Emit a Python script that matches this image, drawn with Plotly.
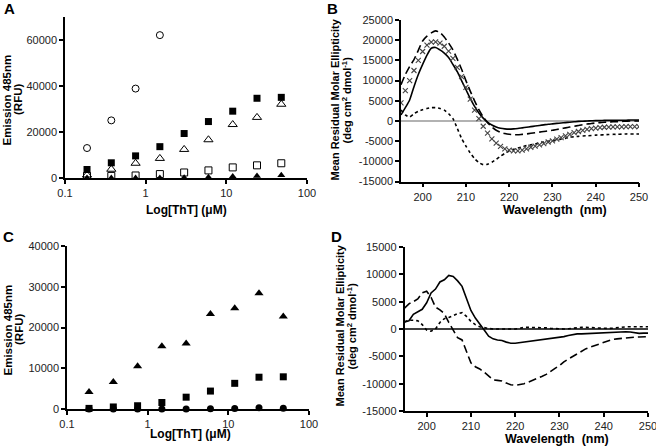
import plotly.graph_objects as go

# ---------------- data ----------------
tht_conc = [0.1875, 0.375, 0.75, 1.5, 3, 6, 12, 24, 48]
log_ticks = [0.1, 1, 10, 100]
log_tick_text = ["0.1", "1", "10", "100"]

# Panel A
a_open_circle = [13000, 25000, 38800, 62000]
a_filled_square = [3700, 6600, 9600, 13600, 19300, 24500, 29000, 34600, 35000]
a_open_triangle = [1300, 3800, 6400, 8500, 12400, 16600, 23200, 26300, 32000]
a_open_square = [900, 900, 1100, 1700, 2400, 3300, 4600, 5500, 6400]
a_filled_triangle = [0, 0, 0, 0, 100, 300, 600, 900, 1200]

# Panel C
c_filled_triangle = [4200, 6600, 10500, 15400, 16100, 23300, 24700, 28400, 22700]
c_filled_square = [150, 500, 800, 1600, 2900, 4400, 6300, 7800, 7900]
c_filled_circle = [0, 0, 0, 0, 0, 50, 150, 300, 200]

# Panel B (CD spectra), wavelength 195..250 nm
wl = list(range(195, 251))
b_solid = [1500, 3300, 5200, 8500, 11500, 14000, 16300, 18000, 18200, 17600,
           16800, 15700, 14000, 12200, 10000, 7800, 5600, 3600, 2000, 700,
           -300, -1000, -1500, -1800, -1950, -2000, -1950, -1850, -1700, -1550,
           -1400, -1250, -1100, -950, -800, -700, -600, -500, -400, -300,
           -200, -100, -50, 0, 50, 100, 100, 150, 150, 150,
           200, 200, 200, 250, 250, 250]
b_long_dash = [9000, 11500, 13500, 15200, 17500, 19800, 21000, 21800, 22300, 21900,
               20800, 19300, 17600, 15300, 12800, 10000, 7400, 5000, 2800, 1000,
               -400, -1500, -2300, -2800, -3100, -3300, -3400, -3400, -3300, -3200,
               -3050, -2900, -2750, -2600, -2450, -2300, -2100, -1900, -1700, -1500,
               -1300, -1100, -900, -750, -600, -500, -400, -300, -250, -200,
               -150, -100, -50, 0, 0, 0]
b_cross = [4500, 7500, 10000, 12500, 15000, 17200, 18800, 19500, 19600, 19300,
           18500, 17300, 15500, 13300, 11000, 8300, 5400, 2700, 600, -1300,
           -3000, -4400, -5500, -6300, -6900, -7200, -7400, -7400, -7200, -6900,
           -6500, -6200, -5900, -5600, -5200, -4900, -4500, -4100, -3700, -3300,
           -2900, -2600, -2300, -2100, -1900, -1750, -1650, -1550, -1500, -1450,
           -1450, -1450, -1400, -1400, -1400, -1400]
b_short_dash = [2700, 1500, 1000, 1800, 2400, 2800, 3100, 3300, 3300, 3100,
                2700, 1800, 600, -1800, -4300, -6200, -7900, -9300, -10300, -10800,
                -10700, -10200, -9500, -8700, -8000, -7400, -7000, -6700, -6400, -6100,
                -5900, -5700, -5400, -5200, -5000, -4900, -4700, -4500, -4300, -4000,
                -3900, -3800, -3700, -3650, -3600, -3500, -3450, -3400, -3350, -3300,
                -3300, -3250, -3200, -3200, -3200, -3200]

# Panel D
d_solid = [1300, 1500, 2700, 3200, 3600, 4800, 6600, 7300, 8600, 9000,
           9800, 9600, 8800, 7800, 5600, 3400, 2000, 800, -200, -1300,
           -1800, -2000, -2100, -2400, -2600, -2600, -2500, -2400, -2300, -2200,
           -2100, -2000, -1900, -1700, -1600, -1500, -1400, -1200, -1000, -900,
           -900, -850, -800, -800, -800, -750, -700, -650, -600, -550,
           -500, -550, -650, -800, -750, -750]
d_long_dash = [3800, 4600, 5000, 5500, 6600, 6900, 5800, 4000, 3500, 2800,
               1200, -200, -1600, -2000, -4200, -6200, -6900, -7300, -7900, -8600,
               -9300, -9400, -9500, -9900, -10200, -10300, -10200, -10000, -9700, -9400,
               -9100, -8700, -8300, -7700, -7200, -6700, -6000, -5500, -5000, -4500,
               -4100, -3600, -3300, -3000, -2700, -2400, -2100, -1900, -1800, -1700,
               -1600, -1550, -1500, -1450, -1400, -1400]
d_short_dash = [1300, 1600, 1600, 1500, 800, -200, -400, 0, 1200, 1900,
                2100, 2500, 2800, 3000, 2300, 1400, 800, 400, 200, 100,
                0, 0, 0, -50, -50, 0, 100, 300, 300, 300,
                300, 250, 200, 100, 50, 0, 0, 50, 150, 300,
                300, 300, 250, 200, 150, 100, 100, 150, 250, 350,
                400, 400, 400, 400, 400, 400]

# ---------------- figure ----------------
W, H = 656, 446
FONT = "Liberation Sans, Arial, Helvetica, sans-serif"
BLACK = "#000000"

def px_x(a, b):
    return [a / W, b / W]

def px_y(top, bottom):
    return [1 - bottom / H, 1 - top / H]

fig = go.Figure()

def sc(x, y, sym, size, xa, ya, lw=1.0):
    fig.add_trace(go.Scatter(
        x=x, y=y, mode="markers", xaxis=xa, yaxis=ya, showlegend=False,
        marker=dict(symbol=sym, size=size, color=BLACK, line=dict(color=BLACK, width=lw)),
        cliponaxis=False))

# Panel A
sc(tht_conc[:4], a_open_circle, "circle-open", 7, "x", "y")
sc(tht_conc, a_open_square, "square-open", 7, "x", "y")
sc(tht_conc, a_open_triangle, "triangle-up-open", 8, "x", "y")
sc(tht_conc, a_filled_square, "square", 7, "x", "y", 0)
sc(tht_conc, a_filled_triangle, "triangle-up", 7, "x", "y", 0)

# Panel C
sc(tht_conc, c_filled_triangle, "triangle-up", 8, "x3", "y3", 0)
sc(tht_conc, c_filled_square, "square", 7, "x3", "y3", 0)
sc(tht_conc, c_filled_circle, "circle", 7, "x3", "y3", 0)

def ln(y, dash, xa, ya, width=1.6, color=BLACK, shape="spline"):
    fig.add_trace(go.Scatter(
        x=wl, y=y, mode="lines", xaxis=xa, yaxis=ya, showlegend=False,
        line=dict(color=color, width=width, dash=dash, shape=shape, smoothing=0.6)))

# Panel B
ln(b_short_dash, "3px,3px", "x2", "y2")
ln(b_long_dash, "8px,4px", "x2", "y2")
ln(b_solid, "solid", "x2", "y2")
fig.add_trace(go.Scatter(
    x=wl, y=b_cross, mode="markers", xaxis="x2", yaxis="y2", showlegend=False,
    marker=dict(symbol="x-thin", size=5, line=dict(color="#444444", width=1.1))))

# Panel D
ln(d_short_dash, "3px,3px", "x4", "y4", shape="linear")
ln(d_long_dash, "8px,4px", "x4", "y4", shape="linear")
ln(d_solid, "solid", "x4", "y4", shape="linear")

tickfont = dict(family=FONT, size=11, color="#222222")
common = dict(showline=True, linecolor=BLACK, linewidth=1.5, ticks="outside",
              ticklen=4, tickwidth=1.5, tickcolor=BLACK, showgrid=False,
              tickfont=tickfont, zeroline=False, automargin=False,
              ticklabeloverflow="allow")

fig.update_layout(
    template="none",
    width=W, height=H, margin=dict(l=0, r=0, t=0, b=0, pad=0, autoexpand=False),
    paper_bgcolor="white", plot_bgcolor="white", showlegend=False,
    font=dict(family=FONT, color=BLACK),
    xaxis=dict(domain=px_x(65, 307), anchor="y", type="log", range=[-1, 2],
               tickvals=log_ticks, ticktext=log_tick_text, **common),
    yaxis=dict(domain=px_y(16.7, 178), anchor="x", range=[0, 70000],
               tickvals=[0, 20000, 40000, 60000], ticktext=["0", "20000", "40000", "60000"], **common),
    xaxis2=dict(domain=px_x(401, 639), anchor="y2", range=[195, 250],
                tickvals=[200, 210, 220, 230, 240, 250], **common),
    yaxis2=dict(domain=px_y(20, 181.6), anchor="x2", range=[-15000, 25000],
                tickvals=list(range(-15000, 25001, 5000)),
                ticktext=[str(v) for v in range(-15000, 25001, 5000)], **common),
    xaxis3=dict(domain=px_x(67, 309), anchor="y3", type="log", range=[-1, 2],
                tickvals=log_ticks, ticktext=log_tick_text, **common),
    yaxis3=dict(domain=px_y(246, 409), anchor="x3", range=[0, 40000],
                tickvals=[0, 10000, 20000, 30000, 40000],
                ticktext=["0", "10000", "20000", "30000", "40000"], **common),
    xaxis4=dict(domain=px_x(404.5, 648), anchor="y4", range=[195, 250],
                tickvals=[200, 210, 220, 230, 240, 250], **common),
    yaxis4=dict(domain=px_y(247, 411), anchor="x4", range=[-15000, 15000],
                tickvals=list(range(-15000, 15001, 5000)),
                ticktext=[str(v) for v in range(-15000, 15001, 5000)], **common),
)

# zero lines in CD panels
fig.add_shape(type="line", xref="x2", yref="y2", x0=195, x1=250, y0=0, y1=0,
              line=dict(color="#999999", width=1.5), layer="below")
fig.add_shape(type="line", xref="x4", yref="y4", x0=195, x1=250, y0=0, y1=0,
              line=dict(color=BLACK, width=1.5), layer="below")

def ann(text, x, y, size, angle=0, bold=True):
    fig.add_annotation(text=text, x=x / W, y=1 - y / H, xref="paper", yref="paper",
                       showarrow=False, textangle=angle, xanchor="center", yanchor="middle",
                       font=dict(family=FONT, size=size, color=BLACK,
                                 weight="bold" if bold else "normal"))

# panel letters
ann("A", 9, 9, 15)
ann("B", 333, 8, 15)
ann("C", 8, 236, 15)
ann("D", 336, 236, 15)

# axis titles
ann("Log[ThT] (μM)", 187, 209.5, 12)
ann("Log[ThT] (μM)", 190, 433.5, 12)
ann("Wavelength  (nm)", 555, 209.5, 12.5)
ann("Wavelength  (nm)", 557, 438.5, 12.5)

ann("Emission 485nm", 6.5, 100, 11.5, angle=-90)
ann("(RFU)", 18, 100, 11.5, angle=-90)
ann("Emission 485nm", 7.5, 330, 11.5, angle=-90)
ann("(RFU)", 19, 330, 11.5, angle=-90)

ann("Mean Residual Molar Ellipticity", 334.5, 100, 11, angle=-90)
ann("(deg cm<sup>2</sup> dmol<sup>-1</sup>)", 346.5, 100, 11, angle=-90)
ann("Mean Residual Molar Ellipticity", 339.5, 326, 11, angle=-90)
ann("(deg cm<sup>2</sup> dmol<sup>-1</sup>)", 351.5, 326, 11, angle=-90)

fig.write_html("out.html", config={"displayModeBar": False},
               post_script="document.body.style.margin='0';document.body.style.overflow='hidden';")
